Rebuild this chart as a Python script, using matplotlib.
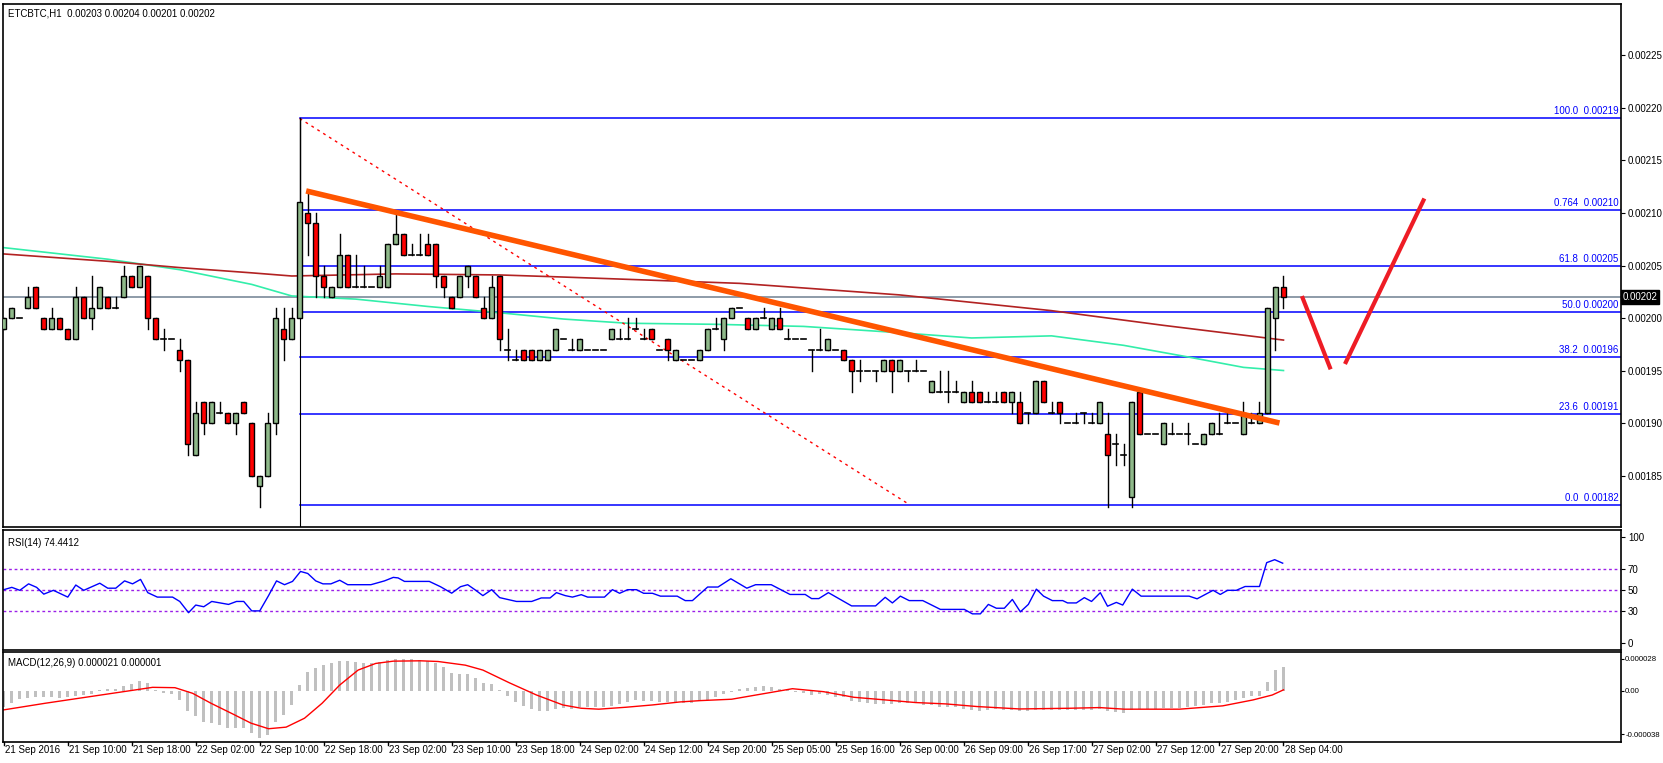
import numpy as np
import matplotlib
matplotlib.use("Agg")
import matplotlib.pyplot as plt

# ---- data (prices in units of 1e-5 BTC) ----
OHLC = [
(199,200,199,200),(200,201,200,201),(200,200,200,200),(201,203,201,202),(203,203,201,201),
(200,200,199,199),(199,201,199,200),(200,200,199,199),(199,199,198,198),(198,203,198,202),
(202,202,200,200),(200,204,199,201),(201,203,201,203),(202,202,201,201),(201,202,201,201),
(202,205,202,204),(204,204,203,203),(203,205,203,205),(204,204,199,200),(200,200,198,198),
(198,199,197,198),(198,198,198,198),(197,198,195,196),(196,196,187,188),(187,192,187,191),
(192,192,189,190),(190,192,190,192),(191,192,191,191),(191,191,190,190),(190,191,189,191),
(192,192,191,191),(190,190,185,185),(184,185,182,185),(185,191,185,190),(190,201,189,200),
(199,201,196,198),(198,201,198,200),(200,219,200,211),(210,212,206,209),(209,210,202,204),
(204,205,202,203),(202,203,202,203),(203,208,203,206),(206,206,203,203),(203,206,203,203),
(203,205,203,203),(203,203,203,203),(203,205,203,204),(203,207,203,207),(207,210,207,208),
(208,208,206,206),(206,207,206,206),(206,208,206,206),(207,208,206,206),(207,207,203,204),
(204,204,202,203),(202,202,201,201),(202,204,202,204),(204,205,203,205),(204,204,202,202),
(201,202,200,200),(200,204,200,203),(204,204,197,198),(197,199,196,197),(196,197,196,196),
(197,197,196,196),(197,197,196,196),(196,197,196,197),(196,197,196,197),(197,199,197,199),
(198,198,198,198),(197,198,197,197),(197,198,197,198),(197,197,197,197),(197,197,197,197),
(197,197,197,197),(198,199,198,199),(198,199,198,198),(198,200,198,198),(199,200,199,199),
(198,199,198,198),(199,199,198,198),(197,197,197,197),(198,198,196,197),(196,197,196,197),
(196,196,196,196),(196,196,196,196),(196,197,196,197),(197,199,197,199),(199,200,199,199),
(198,200,197,200),(200,201,200,201),(201,201,201,201),(200,200,199,199),(199,200,199,200),
(200,201,200,200),(199,200,199,200),(200,201,199,199),(198,199,198,198),(198,198,198,198),
(198,198,198,198),(197,197,195,197),(197,199,197,197),(197,198,197,198),(197,197,197,197),
(197,197,196,196),(196,196,193,195),(195,196,194,195),(195,195,195,195),(195,195,194,195),
(195,196,195,196),(196,196,193,195),(195,196,195,196),(195,195,194,195),(195,196,195,195),
(195,195,195,195),(193,194,193,194),(193,195,193,193),(193,195,192,193),(193,194,193,193),
(192,193,192,193),(193,194,192,192),(193,193,192,192),(192,193,192,192),(192,193,192,192),
(193,193,192,192),(192,193,191,193),(192,193,190,190),(191,191,190,191),(191,194,191,194),
(194,194,192,192),(191,192,191,191),(192,192,190,191),(190,190,190,190),(190,191,190,190),
(191,191,190,191),(190,191,190,190),(190,192,190,192),(189,191,182,187),(188,189,186,188),
(187,188,186,187),(183,192,182,192),(193,193,189,189),(189,189,189,189),(189,189,189,189),
(188,190,188,190),(189,190,189,189),(189,189,189,189),(189,190,188,189),(188,188,188,188),
(188,189,188,189),(189,190,189,190),(189,191,189,189),(190,191,190,190),(190,190,190,190),
(189,192,189,191),(190,191,190,190),(190,192,190,191),(191,201,191,201),(200,203,197,203),
(203,204,201,202),
]

TEAL_IDX = [0,13,22,31,36,44,53,62,70,78,89,100,112,121,131,140,148,155,160]
TEAL_VAL = [206.7,205.6,204.6,203.2,202.1,201.8,201.1,200.5,199.9,199.5,199.4,199.2,198.6,198.1,198.3,197.4,196.3,195.3,195.0]
BROWN_IDX = [0,13,22,31,36,49,62,70,92,112,131,145,160]
BROWN_VAL = [206.1,205.4,204.8,204.3,204.0,204.2,204.1,203.9,203.3,202.2,200.7,199.3,197.9]

FIB_LOW, FIB_HIGH = 182.2, 219.0
FIB_START = 37
FIB_LEVELS = [0.0, 23.6, 38.2, 50.0, 61.8, 76.4, 100.0]
FIB_NAMES = ["0.0  0.00182", "23.6  0.00191", "38.2  0.00196", "50.0 0.00200",
             "61.8  0.00205", "0.764  0.00210", "100.0  0.00219"]
TREND = [(37.8, 212.1), (159.5, 190.0)]
FIB_DIAG = [(37, 219.0), (113.3, 182.2)]
ARROW1 = [(162.4, 201.9), (165.8, 195.3)]
ARROW2 = [(167.8, 195.8), (177.5, 211.2)]
LAST_PRICE = 202

RSI_IDX = [0,1,2,3.1,4.1,5,6.2,8,9,10,12,13,14,15.1,16.1,17.1,18,19.2,21.1,22,23.1,24,25,26,28.1,29.1,30,31,32,33.1,
           34.1,35.1,36.1,37.1,38,39,39.9,40.9,42,43,45.9,47.6,48.7,49.3,50.1,53.2,54.6,56,57.1,58,58.9,59.9,61,62,64.1,
           66,67.2,68.3,69.1,70.2,71.1,72.2,73,75.1,76.1,77,78,79.1,80,81.1,82.1,84.2,85.2,86.1,
           88,89.3,90.9,92.9,94,95.95,97.5,98.3,100.2,101,101.9,103.1,104.4,106,109,110.2,111.1,112.1,113.2,114.9,
           117.1,120.1,121.1,122.1,123.1,124.1,125.1,126.1,127.1,128.1,129.1,130,131.1,132.4,133,134.1,135.1,136,
           137.1,138,139.1,139.9,141.1,142.2,148.2,149.2,151.2,152.1,153,154.1,155.2,157,157.9,158.9,159.9]
RSI_VAL = [50.3,52.5,49.7,55.8,52.5,46.1,49.7,43.3,54.7,49.7,56.4,51.7,51.7,58.6,55.8,60.0,47.5,43.3,43.3,39.2,28.6,35.8,34.2,39.2,36.4,39.2,39.2,30.3,30.3,44.7,
           58.6,55.0,58.1,67.5,65.6,58.6,55.8,55.8,59.2,55.0,55.0,58.6,61.9,61.4,58.1,58.1,53.1,47.0,53.1,55.0,50.3,44.7,50.3,42.8,39.2,
           39.2,42.5,42.5,47.5,44.7,43.3,45.6,43.3,43.3,50.3,46.9,50.3,50.3,46.9,46.9,44.2,44.2,40.0,40.0,
           52.8,52.8,60.6,51.7,55.0,55.0,48.9,45.8,45.8,41.9,41.9,47.5,41.9,35.0,35.0,43.1,37.8,44.2,40.0,40.0,
           31.7,31.7,27.5,27.5,36.4,32.8,32.8,41.1,29.4,36.4,50.8,44.2,40.0,40.0,37.8,37.8,42.8,39.2,
           47.5,34.7,38.3,35.8,50.8,44.2,44.2,41.7,49.7,45.8,49.7,49.7,53.3,53.3,75.8,78.6,75.3]

# MACD histogram (1e-6 units), one per candle
HIST = [-13.6,-10.7,-7.2,-6.4,-5.5,-5.5,-5.5,-6.4,-4.9,-4.3,-3.5,-2.6,0.9,1.4,1.4,4.3,6.1,8.4,7.2,0.9,
        -1.4,-2.6,-7.8,-17.1,-22.3,-27.5,-28.1,-30.1,-32.5,-32.5,-32.5,-36.8,-41.2,-38.3,-27.5,-20.9,-12.2,5.2,16.8,19.7,
        22.6,24.1,26.4,26.4,25.5,24.6,24.6,25.5,27.0,28.4,28.4,28.4,27.0,26.4,24.1,21.2,15.9,14.8,14.8,11.0,
        6.7,6.1,0.9,-4.3,-9.3,-13.0,-15.9,-17.1,-17.1,-15.9,-15.1,-15.9,-13.6,-13.6,-13.6,-13.6,-13.0,-11.3,-9.3,-7.8,
        -8.4,-8.4,-9.3,-9.3,-10.7,-10.7,-10.1,
        -8.4,-7.8,-4.9,-2.6,-0.6,1.4,2.3,3.2,4.3,3.8,2.0,0.9,-0.6,-2.0,-3.5,-2.6,-3.5,-4.9,-5.5,-8.4,
        -9.3,-10.7,-11.6,-11.6,-11.6,-10.7,-10.7,-10.7,-12.2,-12.2,-13.6,-14.2,-14.2,-15.7,-16.5,-17.1,-16.5,-15.9,-16.5,-16.5,
        -17.1,-17.1,-16.5,-16.5,-16.5,-16.5,-16.5,-16.5,-16.5,-16.5,-15.9,-17.1,-18.0,-19.4,-16.5,-15.4,-15.4,-15.4,-14.8,-14.8,
        -14.8,-13.6,-13.0,-12.2,-10.7,-10.1,-9.6,-7.8,-6.4,-4.3,-4.3,8.1,18.3,21.0]
SIG_IDX = [0,5.2,10.8,16.4,18.6,21.4,23.6,25.9,28.6,30.9,33.1,35.3,37.6,39.8,42,44.3,46.5,48.7,52.1,54.3,57.7,59.9,
           63.2,66.6,69.9,72.2,74.4,77.8,81.1,84.5,87.1,91,94.8,98.6,102.5,106.3,110.2,114,117.8,121.7,127,133.2,137,
           140.1,147,152.4,156.2,158.6,160]
SIG_VAL = [-16.5,-10.7,-4.9,0.9,3.2,2.9,-2.0,-10.7,-20.0,-28.1,-33.0,-31.6,-23.8,-10.7,5.2,18.3,24.1,26.1,26.4,25.8,22.6,18.3,
           7.2,-3.5,-12.2,-15.1,-15.9,-14.2,-12.2,-9.6,-8.4,-7.2,-2.6,2.0,-0.6,-5.5,-7.8,-10.1,-11.3,-13.6,-15.7,-15.1,-14.5,
           -15.9,-15.9,-13.0,-7.8,-3.5,1.0]

XTICK_IDX = list(range(0, 161, 8))
XTICK_LBL = ["21 Sep 2016","21 Sep 10:00","21 Sep 18:00","22 Sep 02:00","22 Sep 10:00","22 Sep 18:00",
             "23 Sep 02:00","23 Sep 10:00","23 Sep 18:00","24 Sep 02:00","24 Sep 12:00","24 Sep 20:00",
             "25 Sep 05:00","25 Sep 16:00","26 Sep 00:00","26 Sep 09:00","26 Sep 17:00","27 Sep 02:00",
             "27 Sep 12:00","27 Sep 20:00","28 Sep 04:00"]

# ---- figure ----
W, H = 1663, 763
plt.rcParams["font.family"] = "Liberation Sans"
fig = plt.figure(figsize=(W/100, H/100), dpi=100)
FS = 7

def rect(x0, y0, x1, y1):
    return [x0/W, 1-y1/H, (x1-x0)/W, (y1-y0)/H]

XL = (-0.1, 202.2)
axm = fig.add_axes(rect(3, 4, 1621, 527))
axr = fig.add_axes(rect(3, 530, 1621, 650))
axd = fig.add_axes(rect(3, 652, 1621, 742))
for a in (axm, axr, axd):
    a.set_xlim(*XL)
    for s in a.spines.values():
        s.set_linewidth(1.2); s.set_color("black")
    a.yaxis.tick_right()
    a.tick_params(axis="y", direction="out", length=3, labelsize=FS, pad=2)
    a.tick_params(axis="x", length=0, labelbottom=False)
    a.set_xticks([])

# main
axm.set_ylim(180.1, 229.9)
ax = axm
ax.plot(TEAL_IDX, TEAL_VAL, color="#33eeaa", lw=1.2, zorder=2)
ax.plot(BROWN_IDX, BROWN_VAL, color="#b22222", lw=1.2, zorder=2)
ax.axhline(LAST_PRICE, color="#7a8a9a", lw=1.2, zorder=1)
rng = FIB_HIGH - FIB_LOW
for lv, nm in zip(FIB_LEVELS, FIB_NAMES):
    y = FIB_LOW + rng*lv/100
    ax.plot([FIB_START, XL[1]], [y, y], color="#0000ff", lw=1.1, zorder=1)
    ax.text(XL[1]-0.3, y+0.2, nm, color="#0000ff", fontsize=FS, ha="right", va="bottom")
ax.plot([p[0] for p in FIB_DIAG], [p[1] for p in FIB_DIAG], color="#ff0000", lw=1, ls=(0, (2, 3)), zorder=2)
ax.plot([FIB_START, FIB_START], [FIB_HIGH, 180], color="black", lw=0.8, zorder=1)

bw = 0.6
for i, (o, h, l, c) in enumerate(OHLC):
    ax.plot([i, i], [l, h], color="black", lw=1, zorder=3)
    if c == o:
        ax.plot([i-bw/2, i+bw/2], [c, c], color="black", lw=1.2, zorder=4)
    else:
        fc = "#8fb98a" if c > o else "#ff0000"
        ax.add_patch(plt.Rectangle((i-bw/2, min(o, c)), bw, abs(c-o), facecolor=fc,
                                   edgecolor="black", lw=1, zorder=4))
ax.plot([p[0] for p in TREND], [p[1] for p in TREND], color="#ff5500", lw=4, zorder=5, solid_capstyle="butt")
for seg in (ARROW1, ARROW2):
    ax.plot([p[0] for p in seg], [p[1] for p in seg], color="#ee1c25", lw=3, zorder=5)
yt = list(range(185, 230, 5))
ax.set_yticks(yt)
ax.set_yticklabels([f"{v/1e5:.5f}" for v in yt])
ax.text(1.001, (LAST_PRICE-180.1)/(229.9-180.1), f"{LAST_PRICE/1e5:.5f}", transform=ax.transAxes,
        color="white", fontsize=FS, va="center", ha="left",
        bbox=dict(boxstyle="square,pad=0.2", fc="black", ec="black"))
ax.text(0.003, 0.992, "ETCBTC,H1  0.00203 0.00204 0.00201 0.00202", transform=ax.transAxes,
        fontsize=FS, va="top", ha="left")

# RSI
axr.set_ylim(-6.6, 106.6)
for lv in (30, 50, 70):
    axr.axhline(lv, color="#9b1fe8", lw=1, ls=(0, (2, 2)))
axr.plot(RSI_IDX, RSI_VAL, color="#0000ff", lw=1)
axr.set_yticks([0, 30, 50, 70, 100])
axr.set_yticklabels(["0", "30", "50", "70", "100"])
axr.text(0.003, 0.93, "RSI(14) 74.4412", transform=axr.transAxes, fontsize=FS, va="top")

# MACD
axd.set_ylim(-44.6, 34.1)
axd.bar(np.arange(len(HIST)), HIST, width=0.4, color="#c0c0c0", zorder=1)
axd.plot(SIG_IDX, SIG_VAL, color="#ff0000", lw=1, zorder=2)
axd.set_yticks([28, 0, -38])
axd.set_yticklabels(["0.000028", "0.00", "-0.000038"])
axd.tick_params(axis="y", labelsize=5.6, pad=1, length=2)
axd.text(0.003, 0.93, "MACD(12,26,9) 0.000021 0.000001", transform=axd.transAxes, fontsize=FS, va="top")

# x labels
for xi, lb in zip(XTICK_IDX, XTICK_LBL):
    axd.plot([xi, xi], [-44.6, -44.6-2.5], color="black", lw=1, clip_on=False)
    axd.text(xi+0.2, -47.5, lb, fontsize=FS, ha="left", va="top")

fig.savefig("out.png", dpi=100)
